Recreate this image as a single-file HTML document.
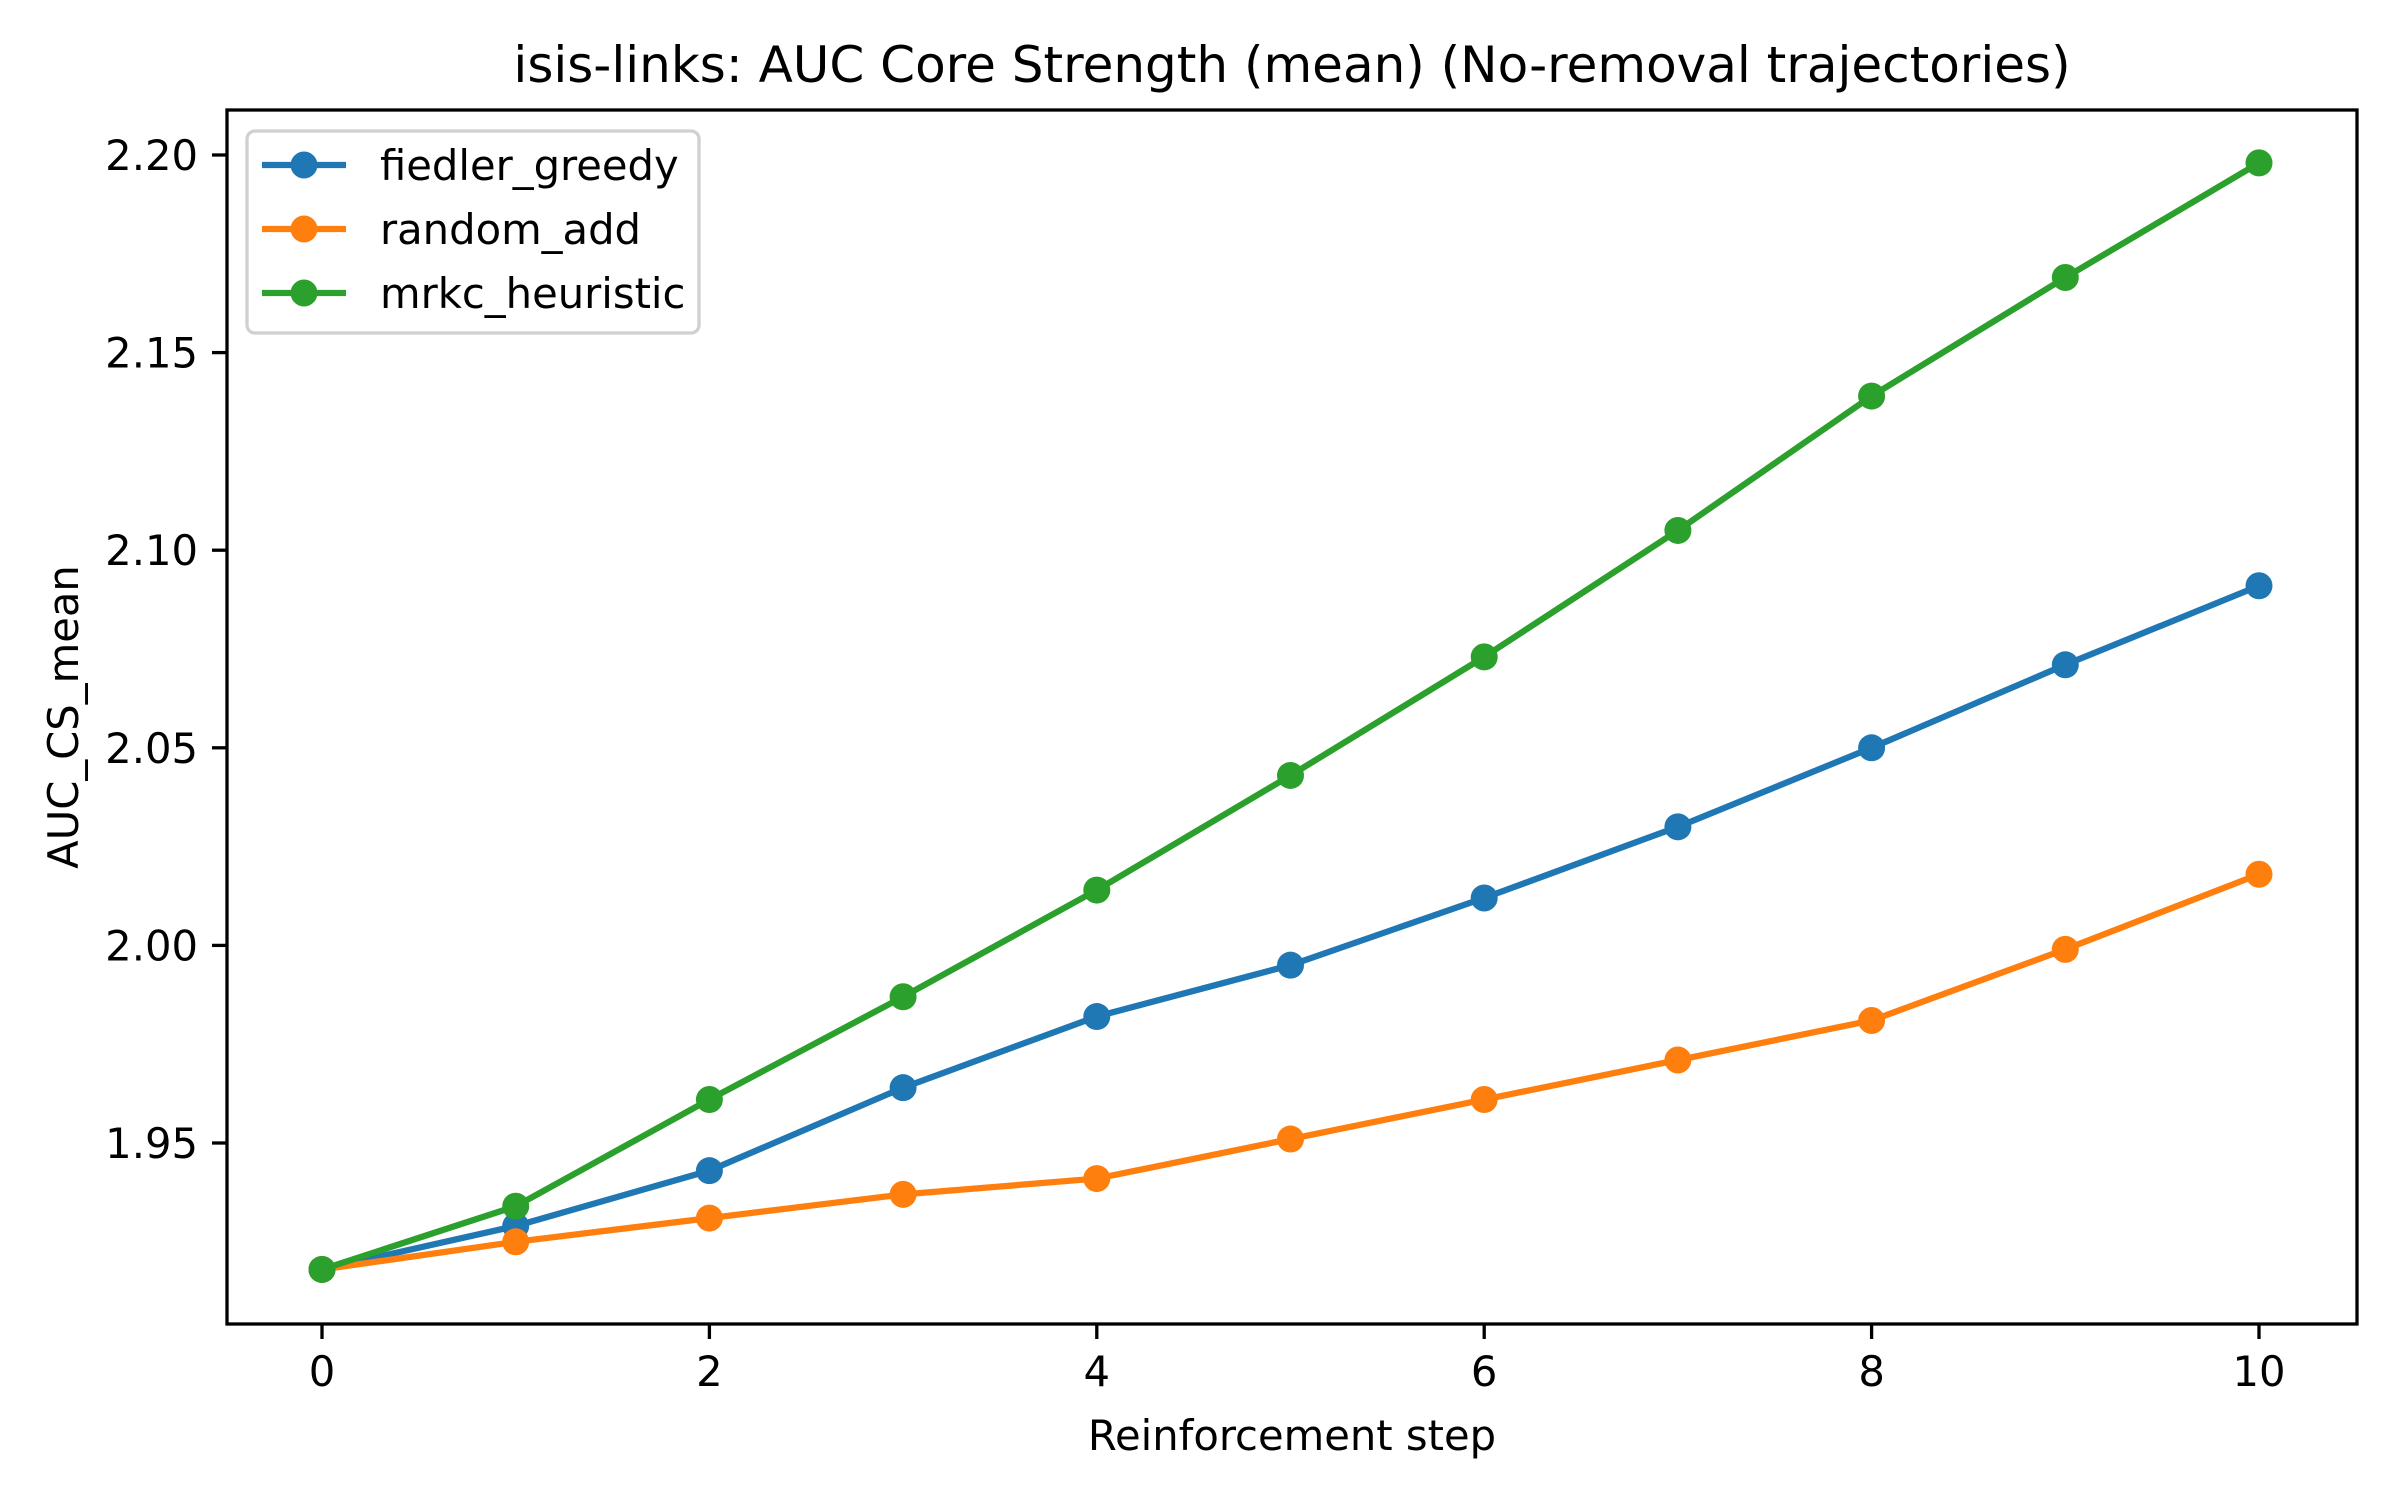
<!DOCTYPE html>
<html><head><meta charset="utf-8"><style>
html,body{margin:0;padding:0;background:#fff;}
svg{display:block;font-family:"DejaVu Sans","Liberation Sans",sans-serif;}
</style></head><body>
<svg id="chart" width="2400" height="1500" viewBox="0 0 2400 1500">
<rect x="0" y="0" width="2400" height="1500" fill="#fff"/>
<text x="1292" y="82" font-size="50" text-anchor="middle" fill="#000">isis-links: AUC Core Strength (mean) (No-removal trajectories)</text>
<g id="series"></g>
<rect x="227" y="110" width="2130" height="1214" fill="none" stroke="#000" stroke-width="3.3"/>
<g id="ticks"></g>
<text x="1292" y="1450" font-size="41.7" text-anchor="middle" fill="#000">Reinforcement step</text>
<text x="0" y="0" font-size="41.7" text-anchor="middle" fill="#000" transform="translate(78,717) rotate(-90)">AUC_CS_mean</text>
<g id="legend"></g>
</svg>
<script>
const steps = [0,1,2,3,4,5,6,7,8,9,10];
const fiedlerGreedy = [1.918,1.929,1.943,1.964,1.982,1.995,2.012,2.030,2.050,2.071,2.091];
const randomAdd = [1.918,1.925,1.931,1.937,1.941,1.951,1.961,1.971,1.981,1.999,2.018];
const mrkcHeuristic = [1.918,1.934,1.961,1.987,2.014,2.043,2.073,2.105,2.139,2.169,2.198];
const seriesNames = ["fiedler_greedy","random_add","mrkc_heuristic"];
const xTicks = [0,2,4,6,8,10];
const yTicks = [1.95,2.00,2.05,2.10,2.15,2.20];
const yTickLabels = ["1.95","2.00","2.05","2.10","2.15","2.20"];

const NS="http://www.w3.org/2000/svg";
function xs(v){return 322 + v*(2259-322)/10;}
function ys(v){return 155 + (2.20-v)*(1143-155)/0.25;}
function mk(tag,attrs,parent){const e=document.createElementNS(NS,tag);for(const k in attrs)e.setAttribute(k,attrs[k]);parent.appendChild(e);return e;}
const ticks=document.getElementById('ticks');
xTicks.forEach(t=>{
  const l=mk('line',{x1:xs(t),x2:xs(t),y1:1324,y2:1339,stroke:'#000','stroke-width':3.3},ticks);
  
  
  const tx=mk('text',{x:xs(t),y:1386,'font-size':41.7,'text-anchor':'middle',fill:'#000'},ticks);
  tx.textContent=t;
  
  
});
yTicks.forEach((t,i)=>{
  const l=mk('line',{x1:212,x2:227,y1:ys(t),y2:ys(t),stroke:'#000','stroke-width':3.3},ticks);
  
  
  const tx=mk('text',{x:198,y:ys(t)+15,'font-size':41.7,'text-anchor':'end',fill:'#000'},ticks);
  tx.textContent=yTickLabels[i];
  
  
});
const colors=["#1f77b4","#ff7f0e","#2ca02c"];
const data=[fiedlerGreedy,randomAdd,mrkcHeuristic];
const sg=document.getElementById('series');
[0,1,2].forEach(si=>{
  const vals=data[si];
  const g=mk('g',{},sg);
  
  
  const p=mk('polyline',{points:steps.map((s,i)=>xs(s)+','+ys(vals[i])).join(' '),fill:'none',stroke:colors[si],'stroke-width':6.25,'stroke-linejoin':'round','stroke-linecap':'square'},g);
  
  
  steps.forEach((s,i)=>{
    const c=mk('circle',{cx:xs(s),cy:ys(vals[i]),r:13.5,fill:colors[si]},g);
    
    
  });
});
const lg=document.getElementById('legend');
const box=mk('rect',{x:247,y:131,width:452,height:202,rx:8,fill:'#fff','fill-opacity':0.8,stroke:'#d0d0d0','stroke-width':3.3},lg);


seriesNames.forEach((n,i)=>{
  const y=165+i*64;
  const g=mk('g',{},lg);
  
  
  mk('line',{x1:262,x2:346,y1:y,y2:y,stroke:colors[i],'stroke-width':6.25},g);
  mk('circle',{cx:304,cy:y,r:13.5,fill:colors[i]},g);
  const t=mk('text',{x:380,y:y+15,'font-size':41.7,fill:'#000'},g);
  t.textContent=n;
});
</script>
</body></html>
